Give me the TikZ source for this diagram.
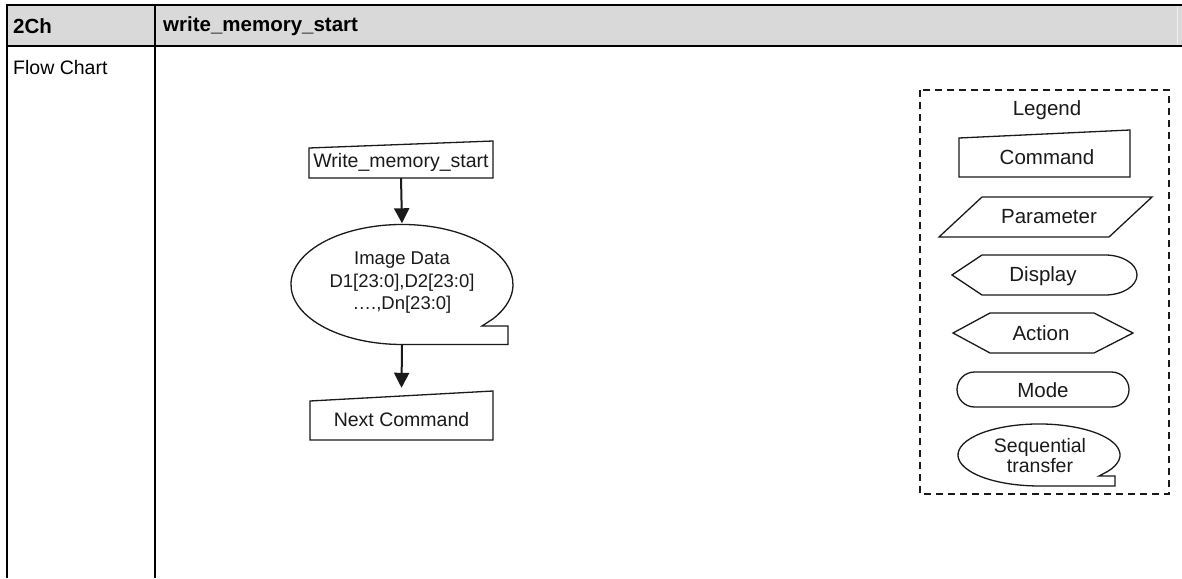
\documentclass[tikz,border=0pt]{standalone}
\usepackage{fontspec}
\setmainfont{Liberation Sans}
\usetikzlibrary{arrows.meta,shapes.geometric}
\definecolor{hdrgray}{HTML}{D9D9D9}
\definecolor{ink}{HTML}{1A1A1A}
\tikzset{
  tbl/.style={line width=2pt, black},
  shp/.style={line width=1.3pt, ink, line join=miter},
  hdrtxt/.style={font=\fontsize{20.5}{23}\selectfont\bfseries, inner sep=0pt, anchor=west},
  celltxt/.style={font=\fontsize{19.5}{23}\selectfont, inner sep=0pt, anchor=west},
  ftxt/.style={font=\fontsize{19.5}{24}\selectfont, text=ink, inner sep=0pt, align=center},
  etxt/.style={font=\fontsize{18.5}{22.5}\selectfont, text=ink, inner sep=0pt, align=center},
  ltxt/.style={font=\fontsize{20.5}{21}\selectfont, text=ink, inner sep=0pt, align=center},
  frame/.style={inner sep=0pt, draw=none},
  arr/.style={line width=2pt, ink, -{Triangle[length=15pt,width=15pt]}},
  legendbox/.style={line width=1.5pt, ink, dash pattern=on 7pt off 5pt}
}
\begin{document}
\begin{tikzpicture}[x=1pt,y=-1pt]
\useasboundingbox (0,0) rectangle (1182,578);
\fill[white] (0,0) rectangle (1182,578);
% ---------- table ----------
\fill[hdrgray] (7,5) rectangle (1182,46);
\draw[white!94!black, line width=1pt] (1177,6) -- (1177,45);
\draw[tbl] (6,5) -- (1182,5);
\draw[tbl] (6,46) -- (1182,46);
\draw[tbl] (7,4) -- (7,578);
\draw[tbl] (155,4) -- (155,578);
\node[hdrtxt] (ch) at (13,26) {2Ch};
\node[hdrtxt] (cmdname) at (163,26) {write\_memory\_start};
\node[celltxt] (fc) at (13,68) {Flow Chart};
% ---------- flow chart ----------
% Write_memory_start (command shape)
\node[frame, minimum width=184pt, minimum height=37pt] (write) at (401,159.5) {};
\draw[shp] (309,148) -- (493,141) -- (493,178) -- (309,178) -- cycle;
\node[ftxt] (writet) at (401,162) {Write\_memory\_start};
% Image data (sequential transfer shape)
\node[frame, ellipse, minimum width=222pt, minimum height=120pt] (img) at (402,284.5) {};
\draw[shp] (492.9,318.9) arc[start angle=-35, end angle=270, x radius=111pt, y radius=60pt]
  -- (508,344.5) -- (508,326) -- (482,326) -- cycle;
\node[etxt] (imgt) at (402,283) {Image Data\\D1[23:0],D2[23:0]\\….,Dn[23:0]};
% Next Command
\node[frame, minimum width=183pt, minimum height=49pt] (next) at (401.5,415.5) {};
\draw[shp] (310,401) -- (493,391) -- (493,440) -- (310,440) -- cycle;
\node[ftxt] (nextt) at (401.5,420) {Next Command};
% connectors
\draw[arr] (write.south) -- ([yshift=1pt]img.north);
\draw[arr] (img.south) -- ([yshift=3pt]next.north);
% ---------- legend ----------
\draw[legendbox] (920,90) rectangle (1169,494);
\node[ltxt] (lg) at (1047,110) {Legend};
% Command
\draw[shp] (959,138) -- (1130,130) -- (1130,177) -- (959,177) -- cycle;
\node[ltxt] (lcmd) at (1047,157) {Command};
% Parameter
\draw[shp] (939,237) -- (982,197) -- (1152,197) -- (1109,237) -- cycle;
\node[ltxt] (lpar) at (1049,217) {Parameter};
% Display
\draw[shp] (952,275) -- (982,255) -- (1105,255)
  arc[start angle=90, end angle=-90, x radius=32pt, y radius=20pt]
  -- (982,295) -- cycle;
\node[ltxt] (ldisp) at (1043,276) {Display};
% Action
\draw[shp] (953,333) -- (990,313) -- (1094,313) -- (1133,333) -- (1094,353) -- (990,353) -- cycle;
\node[ltxt] (lact) at (1041,333) {Action};
% Mode
\draw[shp, rounded corners=17.5pt] (957,372) rectangle (1129,407);
\node[ltxt] (lmode) at (1043,390) {Mode};
% Sequential transfer
\draw[shp] (1107.7,471.4) arc[start angle=-32, end angle=270, x radius=81pt, y radius=31pt]
  -- (1115,486) -- (1115,476) -- (1099,476) -- cycle;
\node[ltxt, font=\fontsize{19.5}{20}\selectfont] (lseq) at (1040,456) {Sequential\\transfer};
\end{tikzpicture}
\end{document}
